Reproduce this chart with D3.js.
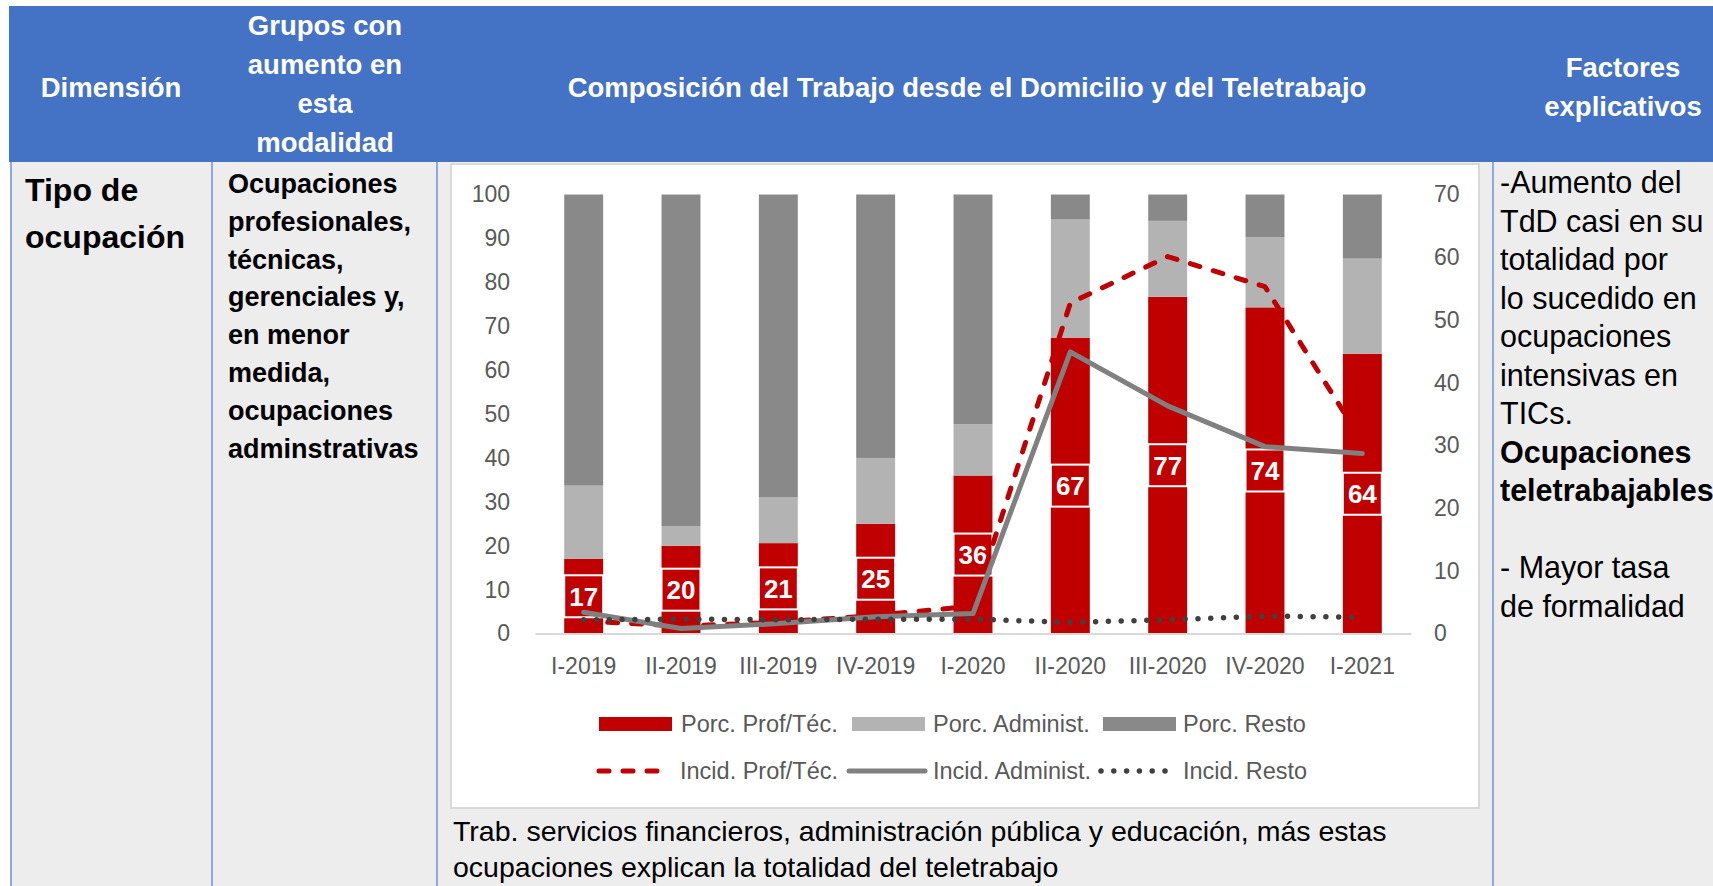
<!DOCTYPE html>
<html>
<head>
<meta charset="utf-8">
<script src="https://cdnjs.cloudflare.com/ajax/libs/d3/7.8.5/d3.min.js"></script>
<style>
  body { margin: 0; background: #fff; }
  text { font-family: "Liberation Sans", Arial, sans-serif; }
</style>
</head>
<body>
<div></div>
<script>
// data
var categories = ['I-2019', 'II-2019', 'III-2019', 'IV-2019', 'I-2020', 'II-2020', 'III-2020', 'IV-2020', 'I-2021'];
var porcProf = [17.0, 20.0, 20.6, 25.0, 36.0, 67.4, 76.7, 74.3, 63.7];
var porcAdmin = [16.7, 4.5, 10.5, 15.0, 11.7, 26.9, 17.3, 16.0, 21.7];
var porcResto = [66.3, 75.5, 68.9, 60.0, 52.3, 5.7, 6.0, 9.7, 14.6];
var incidProf = [2.0, 1.2, 1.8, 2.9, 4.4, 52.7, 60.1, 55.3, 30.6];
var incidAdmin = [3.4, 0.8, 1.6, 2.7, 3.2, 44.9, 36.3, 29.8, 28.7];
var incidResto = [2.2, 2.3, 2.2, 2.3, 2.3, 1.8, 2.2, 2.8, 2.6];
var leftTicks = [0, 10, 20, 30, 40, 50, 60, 70, 80, 90, 100];
var rightTicks = [0, 10, 20, 30, 40, 50, 60, 70];
var barNames = ['Porc. Prof/Téc.', 'Porc. Administ.', 'Porc. Resto'];
var lineNames = ['Incid. Prof/Téc.', 'Incid. Administ.', 'Incid. Resto'];

// table texts
var headDim = ['Dimensión'];
var headGrupos = ['Grupos con', 'aumento en', 'esta', 'modalidad'];
var headComp = ['Composición del Trabajo desde el Domicilio y del Teletrabajo'];
var headFact = ['Factores', 'explicativos'];
var colDim = ['Tipo de', 'ocupación'];
var colGrupos = ['Ocupaciones', 'profesionales,', 'técnicas,', 'gerenciales y,', 'en menor', 'medida,', 'ocupaciones', 'adminstrativas'];
var colFact = ['-Aumento del', 'TdD casi en su', 'totalidad por', 'lo sucedido en', 'ocupaciones', 'intensivas en', 'TICs.', 'Ocupaciones', 'teletrabajables', '', '- Mayor tasa', 'de formalidad'];
var colFactBold = [false, false, false, false, false, false, false, true, true, false, false, false];
var note = ['Trab. servicios financieros, administración pública y educación, más estas', 'ocupaciones explican la totalidad del teletrabajo'];

var width = 1713;
var height = 886;
var red = '#C00000', lightGrey = '#B3B3B3', darkGrey = '#898989', lineGrey = '#808080', dotColor = '#404040';
var axisText = '#595959';

var svg = d3.select('div')
    .append('svg').attr('width', width).attr('height', height);

// table
svg.append('rect').attr('width', width).attr('height', height).attr('fill', '#fff');
svg.append('rect').attr('x', 9).attr('y', 6).attr('width', width - 9).attr('height', 156).attr('fill', '#4472C4');
svg.append('rect').attr('x', 11).attr('y', 162).attr('width', width - 11).attr('height', height - 162).attr('fill', '#EDEDED');
svg.selectAll('line.col')
    .data([11, 212, 437, 1493])
    .enter().append('line')
    .attr('x1', function (d) { return d; }).attr('x2', function (d) { return d; })
    .attr('y1', 162).attr('y2', height)
    .attr('stroke', '#8EAADB').attr('stroke-width', 2);

function lines(list, x, y0, step, size, weight, color, anchor) {
    svg.append('g').selectAll('text')
        .data(list)
        .enter().append('text')
        .attr('x', x)
        .attr('y', function (d, i) { return y0 + i * step; })
        .attr('text-anchor', anchor || 'start')
        .attr('font-size', size)
        .attr('font-weight', weight)
        .attr('fill', color)
        .text(function (d) { return d; });
}

lines(headDim, 111, 97, 0, 27.5, 'bold', '#fff', 'middle');
lines(headGrupos, 325, 35, 39, 27.5, 'bold', '#fff', 'middle');
lines(headComp, 967, 97, 0, 27.5, 'bold', '#fff', 'middle');
lines(headFact, 1623, 77, 39, 27.5, 'bold', '#fff', 'middle');
lines(colDim, 25, 201, 47, 32, 'bold', '#000');
lines(colGrupos, 228, 193, 37.8, 27, 'bold', '#000');

svg.append('g').selectAll('text')
    .data(colFact)
    .enter().append('text')
    .attr('x', 1500)
    .attr('y', function (d, i) { return 193 + i * 38.5; })
    .attr('font-size', 30.5)
    .attr('font-weight', function (d, i) { return colFactBold[i] ? 'bold' : 'normal'; })
    .attr('fill', '#000')
    .text(function (d) { return d; });

lines(note, 453, 841, 36, 28.5, 'normal', '#000');

// chart box
svg.append('rect').attr('x', 451).attr('y', 164).attr('width', 1028).attr('height', 644)
    .attr('fill', '#fff').attr('stroke', '#D9D9D9').attr('stroke-width', 2);

var g = svg.append('g');

var x = d3.scaleBand()
    .domain(categories)
    .range([535, 1411])
    .paddingInner(0.6)
    .paddingOuter(0.3);
var yL = d3.scaleLinear().domain([0, 100]).range([633.6, 194.5]);
var yR = d3.scaleLinear().domain([0, 70]).range([633.6, 194.5]);
var z = d3.scaleOrdinal().domain(['prof', 'admin', 'resto']).range([red, lightGrey, darkGrey]);

var rows = categories.map(function (c, i) {
    return { name: c, prof: porcProf[i], admin: porcAdmin[i], resto: porcResto[i] };
});
var stack = d3.stack().keys(['prof', 'admin', 'resto'])(rows);

// bars
g.append('g')
    .selectAll('g')
    .data(stack)
    .enter().append('g')
    .attr('fill', function (d) { return z(d.key); })
    .selectAll('rect')
    .data(function (d) { return d; })
    .enter().append('rect')
    .attr('x', function (d) { return x(d.data.name); })
    .attr('y', function (d) { return yL(d[1]); })
    .attr('width', x.bandwidth())
    .attr('height', function (d) { return yL(d[0]) - yL(d[1]); });

// axes
var axisL = g.append('g')
    .attr('transform', 'translate(512,0)')
    .call(d3.axisLeft(yL).tickValues(leftTicks).tickSize(0).tickPadding(2));
var axisR = g.append('g')
    .attr('transform', 'translate(1432,0)')
    .call(d3.axisRight(yR).tickValues(rightTicks).tickSize(0).tickPadding(2));
var axisB = g.append('g')
    .attr('transform', 'translate(0,' + yL(0) + ')')
    .call(d3.axisBottom(x).tickSize(0).tickSizeOuter(0).tickPadding(24));
[axisL, axisR].forEach(function (a) { a.select('.domain').remove(); });
axisB.select('.domain').attr('stroke', '#D9D9D9').attr('stroke-width', 2);
[axisL, axisR, axisB].forEach(function (a) {
    a.selectAll('text').attr('font-size', 23).attr('fill', axisText)
        .attr('font-family', '"Liberation Sans", Arial, sans-serif');
});

// data labels on the red segment
var labels = g.append('g')
    .selectAll('g')
    .data(rows)
    .enter().append('g')
    .attr('transform', function (d) {
        return 'translate(' + (x(d.name) + x.bandwidth() / 2) + ',' + yL(d.prof / 2) + ')';
    });
labels.append('rect')
    .attr('x', -x.bandwidth() / 2).attr('y', -21)
    .attr('width', x.bandwidth()).attr('height', 42)
    .attr('fill', red).attr('stroke', '#fff').attr('stroke-width', 2);
labels.append('text')
    .attr('text-anchor', 'middle').attr('y', 9.5)
    .attr('font-size', 26).attr('font-weight', 'bold').attr('fill', '#fff')
    .text(function (d) { return Math.round(d.prof); });

// lines on the right axis
var lineSeries = [
    { values: incidProf, color: red, width: 5, dash: '10,14' },
    { values: incidAdmin, color: lineGrey, width: 5, dash: null },
    { values: incidResto, color: dotColor, width: 5.5, dash: '0,12.8' }
];
var line = d3.line()
    .x(function (d, i) { return x(categories[i]) + x.bandwidth() / 2; })
    .y(function (d) { return yR(d); });

g.append('g')
    .selectAll('path')
    .data(lineSeries)
    .enter().append('path')
    .attr('d', function (d) { return line(d.values); })
    .attr('fill', 'none')
    .attr('stroke', function (d) { return d.color; })
    .attr('stroke-width', function (d) { return d.width; })
    .attr('stroke-dasharray', function (d) { return d.dash; })
    .attr('stroke-linecap', 'round')
    .attr('stroke-linejoin', 'round');

// legend
var legX = [599, 852, 1103];
var legTextX = [681, 933, 1183];
var leg1 = g.append('g').selectAll('g')
    .data(barNames)
    .enter().append('g');
leg1.append('rect')
    .attr('x', function (d, i) { return legX[i]; })
    .attr('y', 717).attr('width', 73).attr('height', 14)
    .attr('fill', function (d, i) { return z.range()[i]; });
leg1.append('text')
    .attr('x', function (d, i) { return legTextX[i]; })
    .attr('y', 732)
    .attr('font-size', 23.5).attr('fill', axisText)
    .text(function (d) { return d; });

var legLineX = [[599, 667], [849, 925], [1101, 1170]];
var leg2 = g.append('g').selectAll('g')
    .data(lineNames)
    .enter().append('g');
leg2.append('line')
    .attr('x1', function (d, i) { return legLineX[i][0]; })
    .attr('x2', function (d, i) { return legLineX[i][1]; })
    .attr('y1', 771).attr('y2', 771)
    .attr('stroke', function (d, i) { return lineSeries[i].color; })
    .attr('stroke-width', function (d, i) { return lineSeries[i].width; })
    .attr('stroke-dasharray', function (d, i) { return lineSeries[i].dash; })
    .attr('stroke-linecap', 'round');
leg2.append('text')
    .attr('x', function (d, i) { return legTextX[i] - (i === 0 ? 1 : 0); })
    .attr('y', 779)
    .attr('font-size', 23.5).attr('fill', axisText)
    .text(function (d) { return d; });
</script>
</body>
</html>
